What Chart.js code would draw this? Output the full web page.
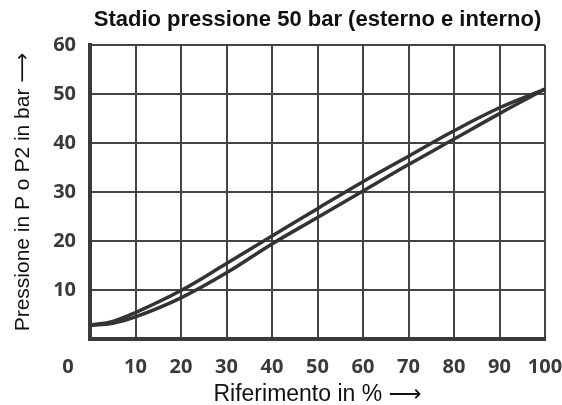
<!DOCTYPE html>
<html>
<head>
<meta charset="utf-8">
<script src="https://cdn.jsdelivr.net/npm/chart.js@4"></script>
<style>
  html, body { margin: 0; padding: 0; background: #fff; }
  #wrap { width: 562px; height: 405px; }
</style>
</head>
<body>
<div id="wrap"><canvas id="chart" width="562" height="405"></canvas></div>
<script>
// Riferimento in %
const riferimento = [0, 5, 10, 20, 30, 40, 50, 60, 70, 80, 90, 100];
// pressione esterno (curva alta) e interno (curva bassa), bar
const pressioneP = [2.8, 3.6, 5.4, 9.9, 15.4, 21.0, 26.6, 32.1, 37.3, 42.5, 47.2, 51.0];
const pressioneP2 = [2.8, 3.2, 4.5, 8.4, 13.5, 19.4, 24.8, 30.2, 35.6, 40.8, 46.0, 51.0];

const titolo = 'Stadio pressione 50 bar (esterno e interno)';
const lineColor = '#333333';
const gridColor = '#444444';
const labelFont = '"Liberation Sans", "DejaVu Sans", Arial, sans-serif';

function toPoints(xs, ys) {
    return xs.map((x, i) => ({ x: x, y: ys[i] }));
}

// title centred over the plot area + the lone "0" left of the axis
const extraText = {
    id: 'extraText',
    afterDraw(chart) {
        const ctx = chart.ctx;
        const area = chart.chartArea;
        ctx.save();
        ctx.fillStyle = '#111';
        ctx.font = 'bold 22px "Liberation Sans", Arial, sans-serif';
        ctx.textAlign = 'center';
        ctx.textBaseline = 'middle';
        ctx.fillText(titolo, (area.left + area.right) / 2, 20);

        ctx.fillStyle = '#3a3a3a';
        ctx.font = 'bold 20px "Open Sans", sans-serif';
        ctx.fillText('0', chart.scales.x.getPixelForValue(0) - 22, 367);
        ctx.restore();
    }
};

const ctx = document.getElementById('chart').getContext('2d');
new Chart(ctx, {
    type: 'line',
    data: {
        datasets: [{
            label: 'P',
            data: toPoints(riferimento, pressioneP),
            borderColor: lineColor,
            borderWidth: 3.5,
            pointRadius: 0,
            tension: 0.4,
            fill: false
        }, {
            label: 'P2',
            data: toPoints(riferimento, pressioneP2),
            borderColor: lineColor,
            borderWidth: 3.5,
            pointRadius: 0,
            tension: 0.4,
            fill: false
        }]
    },
    options: {
        responsive: false,
        animation: false,
        layout: { padding: { top: 45, right: 17, left: 0, bottom: 0 } },
        plugins: {
            legend: { display: false },
            tooltip: { enabled: false }
        },
        scales: {
            x: {
                type: 'linear',
                min: 0,
                max: 100,
                afterFit: (scale) => {
                    scale.height = 66;
                    scale.paddingLeft = 0;
                    scale.paddingRight = 0;
                },
                grid: { color: gridColor, lineWidth: 2, drawTicks: false },
                border: { color: '#3a3a3a', width: 4 },
                ticks: {
                    stepSize: 10,
                    padding: 16,
                    color: '#3a3a3a',
                    font: { family: '"Open Sans", sans-serif', size: 20, weight: 'bold' },
                    callback: (v) => v === 0 ? '' : v
                },
                title: {
                    display: true,
                    text: 'Riferimento in % ⟶',
                    color: '#111',
                    font: { family: labelFont, size: 23, lineHeight: 0.9 },
                    padding: { top: 0, bottom: 0 }
                }
            },
            y: {
                min: 0,
                max: 60,
                afterFit: (scale) => { scale.width = 90; },
                grid: { color: gridColor, lineWidth: 2, drawTicks: false },
                border: { color: '#3a3a3a', width: 4 },
                ticks: {
                    stepSize: 10,
                    padding: 14,
                    color: '#3a3a3a',
                    font: { family: '"Open Sans", sans-serif', size: 20, weight: 'bold' },
                    callback: (v) => v === 0 ? '' : v
                },
                title: {
                    display: true,
                    text: 'Pressione in P o P2 in bar ⟶',
                    color: '#111',
                    font: { family: labelFont, size: 21, lineHeight: 1.2 },
                    padding: { top: 11, bottom: 0 }
                }
            }
        }
    },
    plugins: [extraText]
});
</script>
</body>
</html>
